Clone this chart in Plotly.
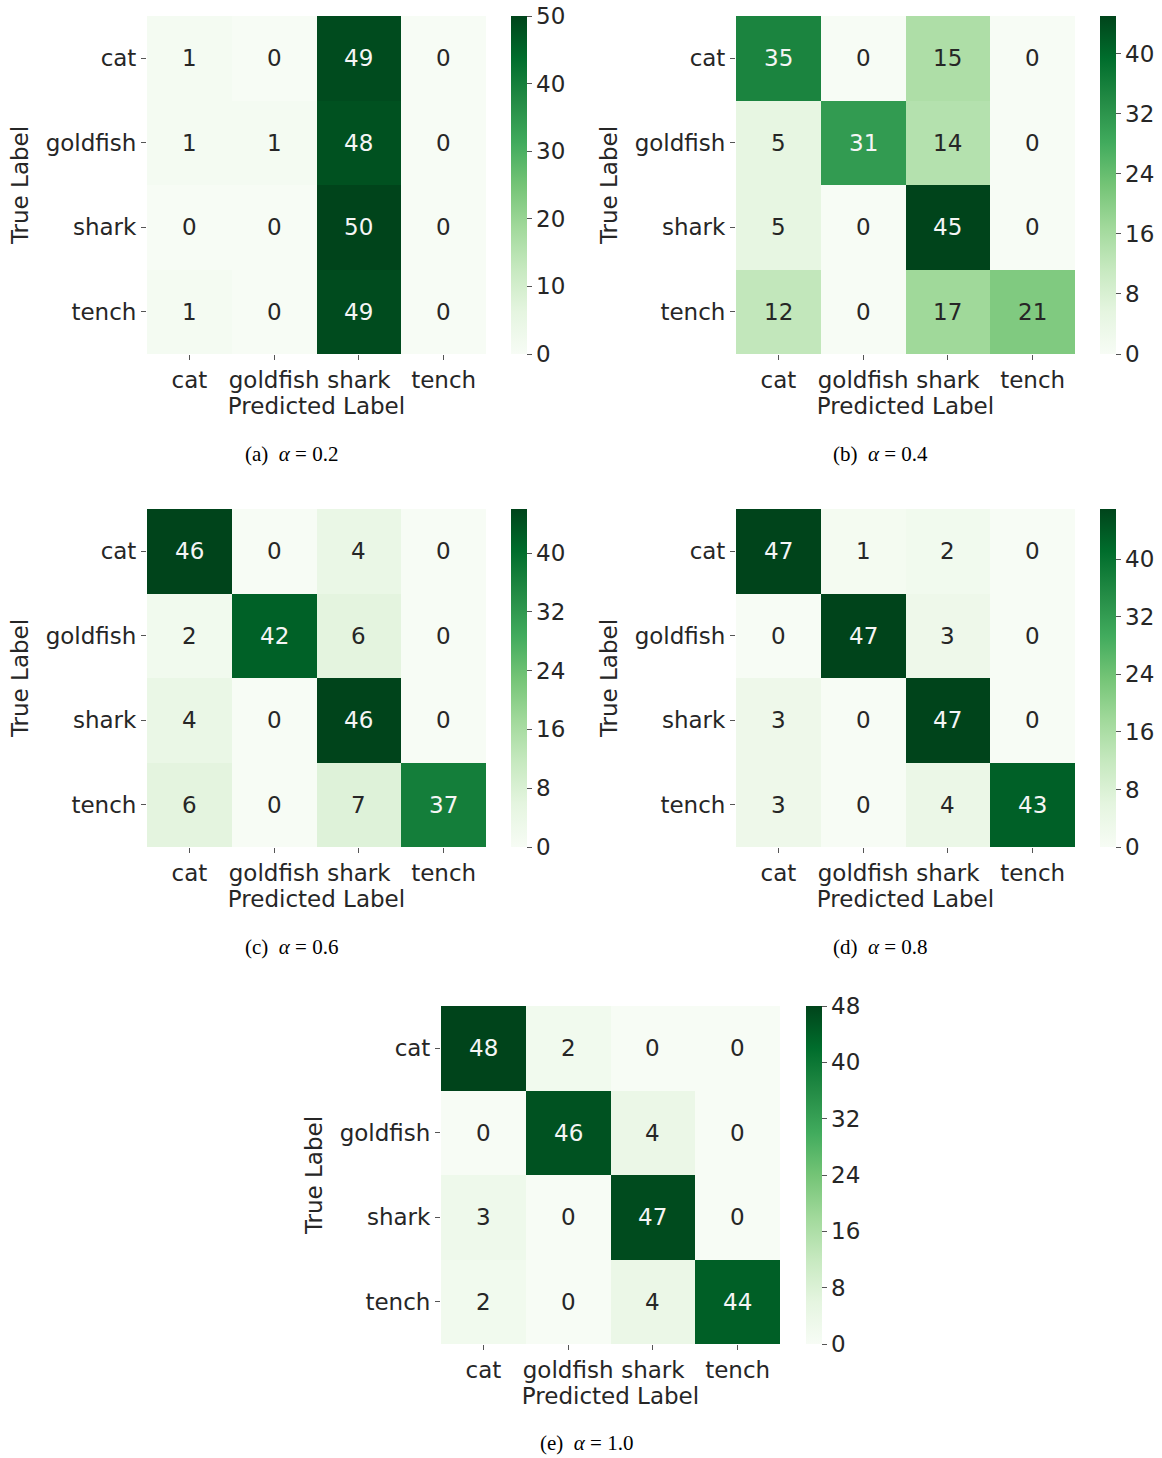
import plotly.graph_objects as go

labels = ["cat", "goldfish", "shark", "tench"]

cm_a = [[1, 0, 49, 0], [1, 1, 48, 0], [0, 0, 50, 0], [1, 0, 49, 0]]
cm_b = [[35, 0, 15, 0], [5, 31, 14, 0], [5, 0, 45, 0], [12, 0, 17, 21]]
cm_c = [[46, 0, 4, 0], [2, 42, 6, 0], [4, 0, 46, 0], [6, 0, 7, 37]]
cm_d = [[47, 1, 2, 0], [0, 47, 3, 0], [3, 0, 47, 0], [3, 0, 4, 43]]
cm_e = [[48, 2, 0, 0], [0, 46, 4, 0], [3, 0, 47, 0], [2, 0, 4, 44]]

captions = ["(a)  <i>α</i> = 0.2", "(b)  <i>α</i> = 0.4", "(c)  <i>α</i> = 0.6",
            "(d)  <i>α</i> = 0.8", "(e)  <i>α</i> = 1.0"]
cbar_ticks = [
    [0, 10, 20, 30, 40, 50],
    [0, 8, 16, 24, 32, 40],
    [0, 8, 16, 24, 32, 40],
    [0, 8, 16, 24, 32, 40],
    [0, 8, 16, 24, 32, 40, 48],
]

matrices = [cm_a, cm_b, cm_c, cm_d, cm_e]

W, H = 1162, 1458
greens = ["#f7fcf5", "#e5f5e0", "#c7e9c0", "#a1d99b", "#74c476",
          "#41ab5d", "#238b45", "#006d2c", "#00441b"]
colorscale = [[i / 8, c] for i, c in enumerate(greens)]

# pixel boxes (screen coords): heatmap x0,x1,y0,y1, colorbar left x, caption center
boxes = [
    (147, 486, 16, 354, 511, 291, 454),
    (736, 1075, 16, 354, 1100, 880, 454),
    (147, 486, 509, 847, 511, 291, 947),
    (736, 1075, 509, 847, 1100, 880, 947),
    (441, 780, 1006, 1344, 806, 586, 1443),
]

FONT = "DejaVu Sans"
FS = 23
DARK = "#262626"

fig = go.Figure()
layout = dict(width=W, height=H, margin=dict(l=0, r=0, t=0, b=0),
              paper_bgcolor="white", plot_bgcolor="white", showlegend=False,
              font=dict(family=FONT, size=FS, color=DARK))
annotations = []

for i, (cm, box) in enumerate(zip(matrices, boxes)):
    x0, x1, y0, y1, cbx, capx, capy = box
    n = i + 1
    xa = "x" if n == 1 else f"x{n}"
    ya = "y" if n == 1 else f"y{n}"
    ca = "coloraxis" if n == 1 else f"coloraxis{n}"
    vmax = max(max(r) for r in cm)
    vmin = min(min(r) for r in cm)
    fig.add_trace(go.Heatmap(z=cm, x=labels, y=labels, xaxis=xa, yaxis=ya,
                             coloraxis=ca, hoverinfo="skip"))
    layout[ca] = dict(
        colorscale=colorscale, cmin=vmin, cmax=vmax,
        colorbar=dict(
            x=cbx / W, xanchor="left", xref="paper",
            y=1 - (y0 + y1) / 2 / H, yanchor="middle",
            len=(y1 - y0), lenmode="pixels",
            thickness=16, thicknessmode="pixels",
            outlinewidth=0, ticks="outside", ticklen=5, tickwidth=1,
            tickcolor="#555555", tickmode="array",
            tickvals=cbar_ticks[i], ticktext=[str(t) for t in cbar_ticks[i]],
            ticklabeloverflow="allow",
            tickfont=dict(family=FONT, size=FS, color=DARK),
            xpad=0, ypad=0,
        ),
    )
    xkey = "xaxis" if n == 1 else f"xaxis{n}"
    ykey = "yaxis" if n == 1 else f"yaxis{n}"
    layout[xkey] = dict(
        domain=[x0 / W, x1 / W], anchor=ya, showgrid=False, zeroline=False,
        ticks="outside", ticklen=5, tickcolor="#555555", showline=False,
        tickfont=dict(family=FONT, size=FS, color=DARK),
        title=dict(text="Predicted Label", standoff=2,
                   font=dict(family=FONT, size=FS, color=DARK)),
        categoryorder="array", categoryarray=labels,
    )
    layout[ykey] = dict(
        domain=[1 - y1 / H, 1 - y0 / H], anchor=xa, showgrid=False, zeroline=False,
        ticks="outside", ticklen=5, tickcolor="#555555", showline=False,
        autorange="reversed",
        tickfont=dict(family=FONT, size=FS, color=DARK),
        title=dict(text="True Label", standoff=10,
                   font=dict(family=FONT, size=FS, color=DARK)),
        categoryorder="array", categoryarray=labels,
    )
    for r, row in enumerate(cm):
        for c, v in enumerate(row):
            frac = (v - vmin) / (vmax - vmin) if vmax > vmin else 0
            annotations.append(dict(
                x=labels[c], y=labels[r], xref=xa, yref=ya, text=str(v),
                showarrow=False,
                font=dict(family=FONT, size=FS, color="#f5f5f5" if frac > 0.6 else DARK),
            ))
    annotations.append(dict(
        x=capx / W, y=1 - capy / H, xref="paper", yref="paper",
        text=captions[i], showarrow=False, xanchor="center", yanchor="middle",
        font=dict(family="Liberation Serif", size=21, color="black"),
    ))

layout["annotations"] = annotations
fig.update_layout(**layout)
fig.write_html("out.html", config={"displayModeBar": False},
               post_script="document.body.style.margin='0';document.body.style.overflow='hidden';")
